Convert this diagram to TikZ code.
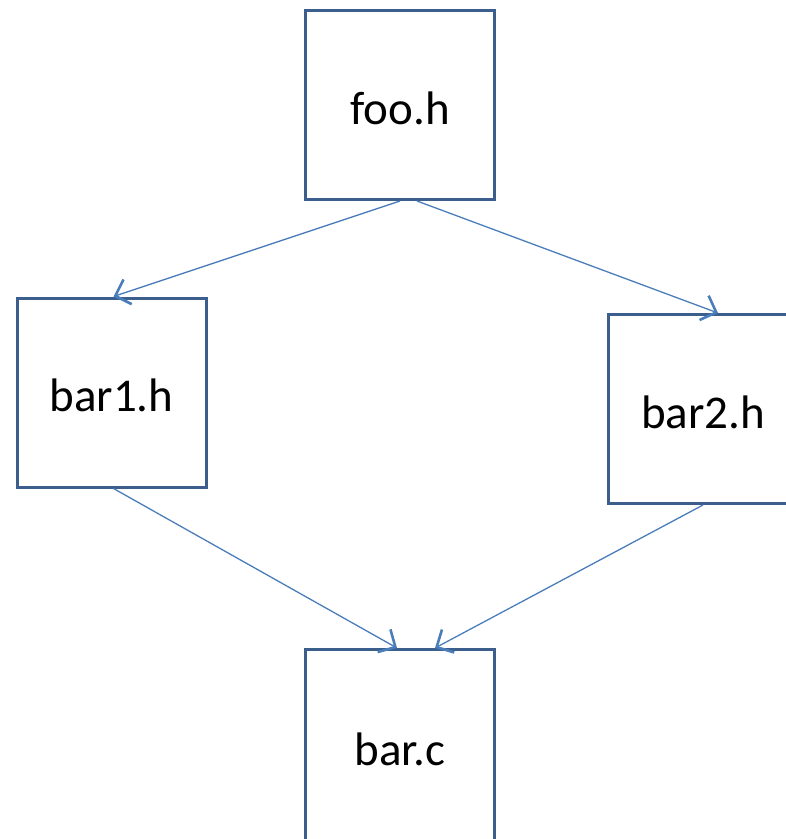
\documentclass[tikz,border=0pt]{standalone}
\usepackage{fontspec}
\setmainfont{Carlito}
\usetikzlibrary{arrows.meta,calc}
\definecolor{boxblue}{HTML}{3B5E8C}
\definecolor{arrowblue}{HTML}{4A7EBB}
\begin{document}
\begin{tikzpicture}[x=1pt,y=-1pt,
  filebox/.style={draw=boxblue, line width=3pt, minimum width=189pt, minimum height=189pt,
    inner sep=0pt, text height=38pt, text depth=0pt,
    font=\fontsize{47}{56}\selectfont, text=black},
  dep/.style={draw=arrowblue, line width=1.3pt,
    -{Straight Barb[length=13pt,width=26pt,line width=2.6pt,line cap=butt]}}]
  \useasboundingbox (0,0) rectangle (786,839);
  \clip (0,0) rectangle (786,839);
  \fill[white] (0,0) rectangle (786,839);
  % header and source files
  \node[filebox] (foo)  at (400,105)   {foo.h};
  \node[filebox] (bar1) at (111.5,392.5) {bar1.h};
  \node[filebox] (bar2) at (703,409)   {bar2.h};
  \node[filebox, minimum height=200pt, text height=31pt] (barc) at (400,749.5) {bar.c};
  % include dependencies
  \draw[dep] (foo.south) -- ($(bar1.north)+(2,0)$);
  \draw[dep] ($(foo.south)+(17,0)$) -- ($(bar2.north)+(15,0)$);
  \draw[dep] ($(bar1.south)+(2,0)$) -- ($(barc.north)+(-3,0)$);
  \draw[dep] (bar2.south) -- ($(barc.north)+(35,0)$);
\end{tikzpicture}
\end{document}
